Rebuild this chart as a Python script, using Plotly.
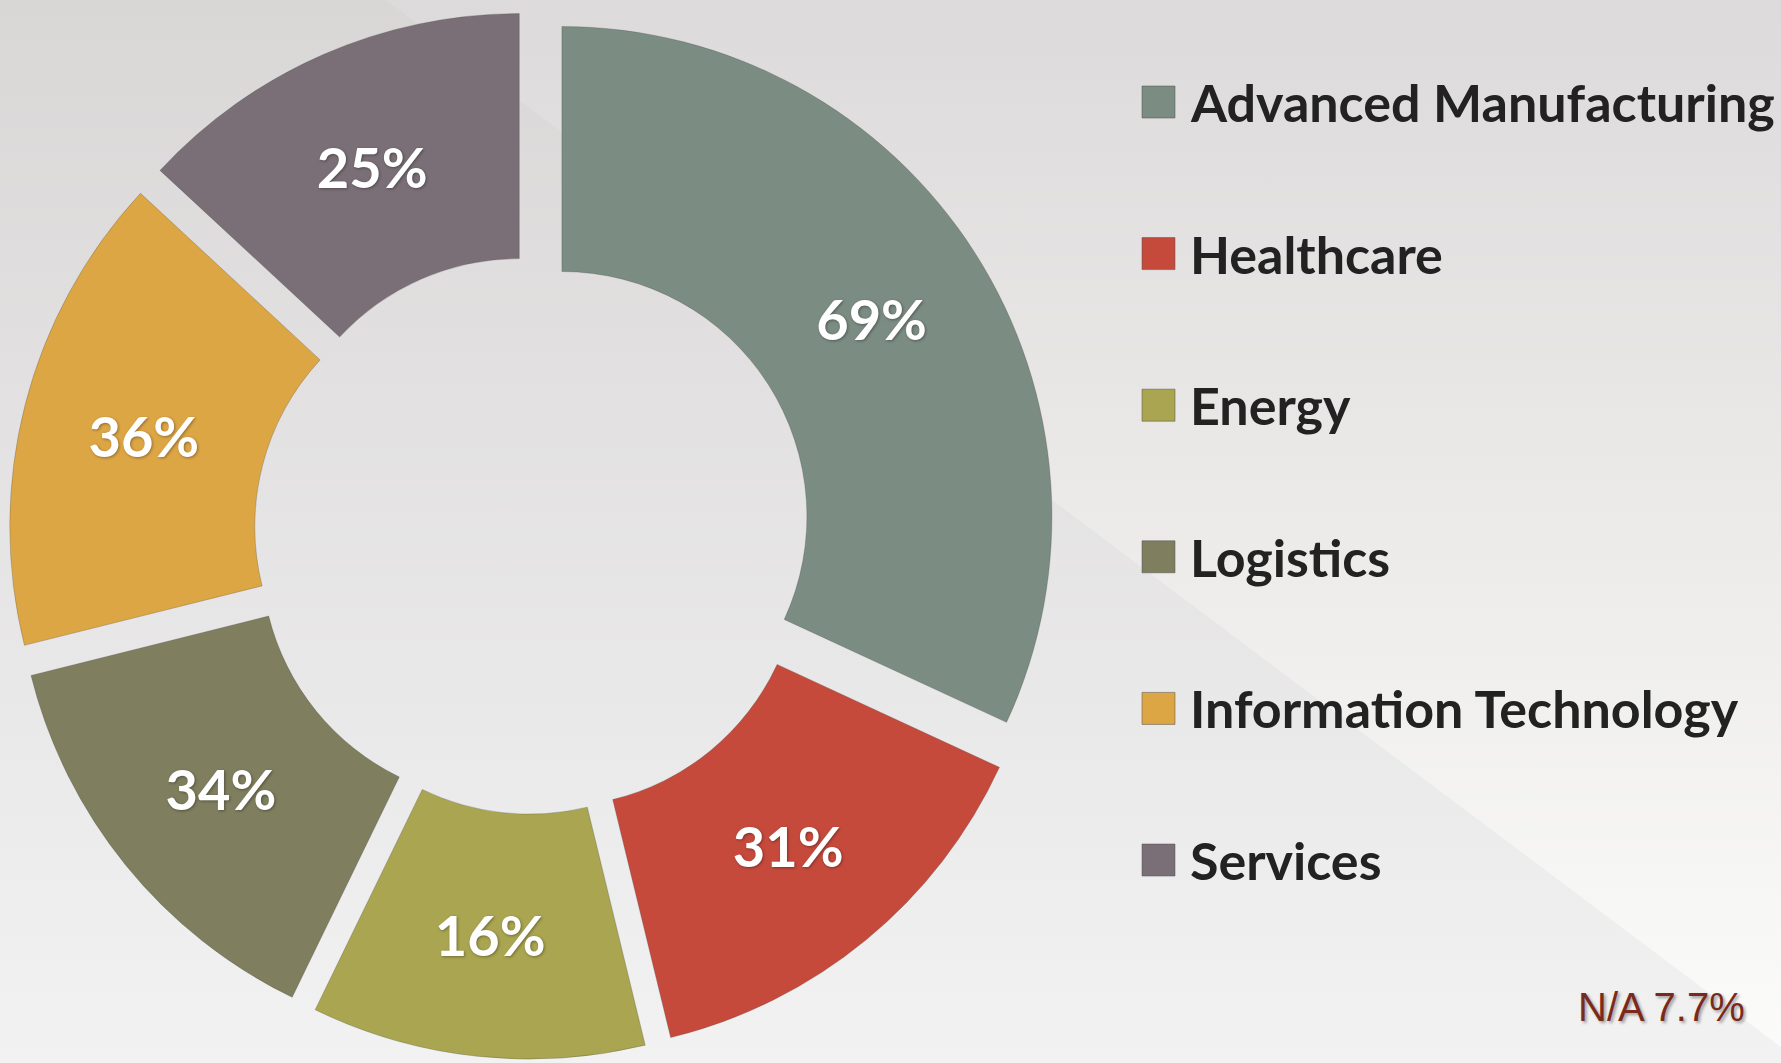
#!/usr/bin/env python3

import plotly.graph_objects as go

# data
categories = ['Advanced Manufacturing', 'Healthcare', 'Energy',
              'Logistics', 'Information Technology', 'Services']
value_labels = ['69%', '31%', '16%', '34%', '36%', '25%']
# share of the ring each slice takes in the picture (the slices are not
# drawn in proportion to the printed labels)
slice_shares = [31.9, 14.3, 11.0, 13.9, 15.8, 13.1]
na_note = 'N/A 7.7%'

colors = ['#7b8c82', '#c64a3c', '#aaa550', '#7f7e5e', '#dda645', '#7a6f76']

W, H = 1781, 1063


def make_chart():
    fig = go.Figure()

    # background: vertical grey gradient plus a lighter diagonal band on the right
    fig.add_trace(go.Scatter(
        x=[0, 1, 1, 0, 0], y=[0, 0, 1, 1, 0],
        mode='lines', line=dict(width=0), fill='toself',
        fillgradient=dict(type='vertical',
                          colorscale=[[0, '#f2f2f2'], [1, '#d9d6d6']]),
        hoverinfo='skip', showlegend=False,
    ))
    fig.add_trace(go.Scatter(
        x=[386 / W, 1, 1, 386 / W], y=[1, 1, 1 - 1047 / H, 1],
        mode='lines', line=dict(width=0), fill='toself',
        fillgradient=dict(type='vertical',
                          colorscale=[[0, '#fbfbf9'], [1, '#dcdada']]),
        hoverinfo='skip', showlegend=False,
    ))

    # the donut
    cx, cy, r = 533, 535, 490
    pull = 0.07
    half = r * (1 + pull)
    fig.add_trace(go.Pie(
        labels=categories,
        values=slice_shares,
        text=value_labels,
        textinfo='text',
        textposition='inside',
        insidetextorientation='horizontal',
        insidetextfont=dict(family='Lato', size=56, color='white', weight='bold',
                            shadow='1px 1px 3px rgba(0,0,0,0.35)'),
        hole=0.5,
        pull=pull,
        sort=False,
        direction='clockwise',
        rotation=0,
        marker=dict(colors=colors, line=dict(color='rgba(60,60,60,0.25)', width=1)),
        domain=dict(x=[(cx - half) / W, (cx + half) / W],
                    y=[(H - cy - half) / H, (H - cy + half) / H]),
        showlegend=False,
    ))

    # legend drawn at the right, one row per category
    shapes = []
    annotations = []
    y0, step = 102, 151.6
    for i, (name, col) in enumerate(zip(categories, colors)):
        yc = y0 + i * step
        shapes.append(dict(
            type='rect', xref='paper', yref='paper',
            x0=1142 / W, x1=1175 / W,
            y0=1 - (yc + 16) / H, y1=1 - (yc - 16) / H,
            fillcolor=col, line=dict(color='rgba(80,80,80,0.5)', width=1),
        ))
        annotations.append(dict(
            text=name, xref='paper', yref='paper',
            x=1188 / W, y=1 - yc / H, xanchor='left', yanchor='middle',
            showarrow=False,
            font=dict(family='Lato', size=52, color='#222222', weight='bold'),
        ))

    annotations.append(dict(
        text=na_note, xref='paper', yref='paper',
        x=1747 / W, y=1 - 1007 / H, xanchor='right', yanchor='middle',
        showarrow=False,
        font=dict(family='Liberation Sans', size=40, color='#7a2a1c',
                  shadow='2px 2px 3px rgba(0,0,0,0.35)'),
    ))

    fig.update_layout(
        width=W, height=H,
        margin=dict(l=0, r=0, t=0, b=0),
        paper_bgcolor='#e8e6e6',
        plot_bgcolor='rgba(0,0,0,0)',
        xaxis=dict(range=[0, 1], visible=False, fixedrange=True),
        yaxis=dict(range=[0, 1], visible=False, fixedrange=True),
        shapes=shapes,
        annotations=annotations,
        showlegend=False,
    )
    return fig


if __name__ == '__main__':
    fig = make_chart()
    fig.write_html('out.html', config={'displayModeBar': False},
                   post_script="document.body.style.margin='0';")
